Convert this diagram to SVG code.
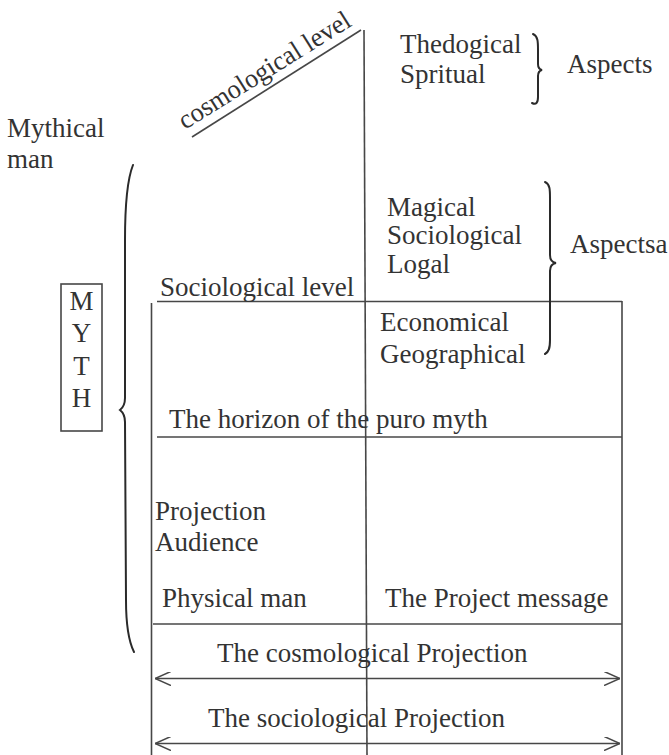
<svg xmlns="http://www.w3.org/2000/svg" width="669" height="755" viewBox="0 0 669 755">
<style>
text{font-family:"Liberation Serif","Times New Roman",serif;font-size:27px;fill:#333}
.ln{stroke:#474747;stroke-width:1.6;fill:none}
.br{stroke:#2a2a2a;stroke-width:2;fill:none;stroke-linecap:round}
</style>
<defs>
<marker id="ah" viewBox="0 0 16 14" refX="16" refY="7" markerWidth="16" markerHeight="14" markerUnits="userSpaceOnUse" orient="auto-start-reverse">
<path d="M0,0 L16,7 L0,14" fill="none" stroke="#474747" stroke-width="1.6"/>
</marker>
</defs>
<rect width="669" height="755" fill="#fff"/>

<g id="frame">
<line class="ln" x1="364" y1="30" x2="367" y2="755"/>
<line class="ln" x1="192" y1="137" x2="361" y2="30"/>
<line class="ln" x1="157" y1="301.5" x2="622" y2="301.5"/>
<line class="ln" x1="151.5" y1="303" x2="151.5" y2="755"/>
<line class="ln" x1="622" y1="301" x2="622" y2="755"/>
<line class="ln" x1="157" y1="437" x2="622" y2="437"/>
<line class="ln" x1="153" y1="624" x2="622" y2="624"/>
</g>

<g id="mythical-man"><text x="7" y="137">Mythical</text><text x="7" y="168">man</text></g>

<g id="myth-box">
<rect x="61" y="284" width="41" height="147" fill="none" stroke="#474747" stroke-width="1.6"/>
<text x="81.5" y="310" text-anchor="middle" font-size="25">M</text>
<text x="81.5" y="342" text-anchor="middle" font-size="25">Y</text>
<text x="81.5" y="375" text-anchor="middle" font-size="25">T</text>
<text x="81.5" y="407" text-anchor="middle" font-size="25">H</text>
</g>

<g id="cosmological-level"><text transform="translate(185,130) rotate(-32)" textLength="198" lengthAdjust="spacingAndGlyphs">cosmological level</text></g>

<g id="aspects-top">
<text x="400" y="53">Thedogical</text>
<text x="400" y="83">Spritual</text>
<text x="567" y="73">Aspects</text>
</g>

<g id="aspects-mid">
<text x="387" y="216">Magical</text>
<text x="387" y="244">Sociological</text>
<text x="387" y="273">Logal</text>
<text x="570" y="253">Aspectsa</text>
<text x="380" y="331">Economical</text>
<text x="380" y="363">Geographical</text>
</g>

<g id="sociological-level"><text x="160" y="296">Sociological level</text></g>
<g id="horizon"><text x="169" y="428">The horizon of the puro myth</text></g>
<g id="projection-audience"><text x="155" y="520">Projection</text><text x="155" y="551">Audience</text></g>
<g id="physical-man"><text x="162" y="607">Physical man</text></g>
<g id="project-message"><text x="385" y="607">The Project message</text></g>
<g id="cosmological-projection"><text x="217" y="662">The cosmological Projection</text></g>
<g id="sociological-projection"><text x="208" y="727">The sociological Projection</text></g>

<g id="connectors">
<path class="br" d="M133,165 C127,180 125,205 125,240 L125,398 Q125,406 120,410 Q125,414 125,422 L126,600 C126,625 128,640 134,652"/>
<path class="br" d="M533,34 C538,36 538,42 538,50 L538,64 Q538,69 542,70 Q538,71 538,76 L538,97 C538,103 536,105 532,103"/>
<path class="br" d="M545,182 C550,184 550,190 550,198 L550,255 Q550,262 556,263 Q550,264 550,271 L550,340 C550,348 549,352 545,354"/>
<line class="ln" x1="155" y1="678.5" x2="620" y2="678.5" marker-start="url(#ah)" marker-end="url(#ah)"/>
<line class="ln" x1="155" y1="743.5" x2="620" y2="743.5" marker-start="url(#ah)" marker-end="url(#ah)"/>
</g>
</svg>
